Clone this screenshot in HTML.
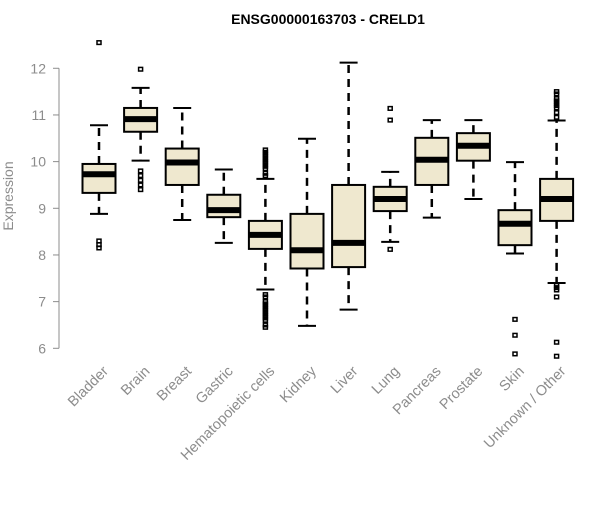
<!DOCTYPE html>
<html><head><meta charset="utf-8"><style>
body{margin:0;background:#fff}
svg text{font-family:"Liberation Sans",Arial,sans-serif}
</style></head><body>
<svg id="chart" width="600" height="500" viewBox="0 0 600 500" xmlns="http://www.w3.org/2000/svg">
<text x="328" y="24" text-anchor="middle" font-size="14" font-weight="bold" fill="#000">ENSG00000163703 - CRELD1</text>
<text transform="translate(13,196) rotate(-90)" text-anchor="middle" font-size="14" fill="#8c8c8c">Expression</text>
<g id="axis"></g>
<g id="boxes"></g>
</svg>
<script>
const categories=["Bladder","Brain","Breast","Gastric","Hematopoietic cells","Kidney","Liver","Lung","Pancreas","Prostate","Skin","Unknown / Other"];
const whiskerLow=[8.88,10.02,8.75,8.26,7.26,6.48,6.83,8.28,8.8,9.2,8.03,7.4];
const q1=[9.33,10.64,9.5,8.81,8.13,7.71,7.74,8.94,9.5,10.02,8.21,8.73];
const medians=[9.73,10.91,9.98,8.96,8.43,8.1,8.26,9.2,10.04,10.34,8.67,9.2];
const q3=[9.95,11.15,10.28,9.29,8.73,8.88,9.5,9.46,10.51,10.61,8.96,9.63];
const whiskerHigh=[10.78,11.58,11.15,9.83,9.63,10.49,12.12,9.78,10.89,10.89,9.99,10.88];
const outliers=[[12.55,8.3,8.22,8.15],[11.98,9.8,9.7,9.6,9.5,9.4],[],[],[9.7,9.75,9.85,9.9,9.95,10.0,10.05,10.1,10.15,10.2,10.25,7.15,7.1,7.0,6.95,6.9,6.85,6.8,6.75,6.7,6.65,6.6,6.5,6.45],[],[],[11.14,10.89,8.12],[],[],[6.62,6.28,5.88],[10.95,11.05,11.15,11.2,11.25,11.3,11.35,11.45,11.5,7.35,7.3,7.25,7.1,6.13,5.83]];
const yTicks=[6,7,8,9,10,11,12];
const NS="http://www.w3.org/2000/svg";
const y=v=>348.3-(v-6)*46.67;
const x=i=>99+i*41.6;
const bw=33;
function mk(tag,attrs,parent){const e=document.createElementNS(NS,tag);for(const k in attrs)e.setAttribute(k,attrs[k]);parent.appendChild(e);return e;}
const ax=document.getElementById('axis');
const axl=mk('line',{x1:59,x2:59,y1:y(12),y2:y(6),stroke:'#8c8c8c','stroke-width':1},ax);


yTicks.forEach(t=>{
 const tk=mk('line',{x1:53,x2:59,y1:y(t),y2:y(t),stroke:'#8c8c8c'},ax);
 
 
 const tl=mk('text',{x:46,y:y(t)+5,'text-anchor':'end','font-size':14,fill:'#8c8c8c'},ax);
 tl.textContent=t;
 
 
});
const bx=document.getElementById('boxes');
categories.forEach((c,i)=>{
 const cx=x(i);
 const g=mk('g',{},bx);
 
 
 mk('line',{x1:cx,x2:cx,y1:y(q3[i]),y2:y(whiskerHigh[i]),stroke:'#000','stroke-width':2.5,'stroke-dasharray':'8,6'},g);
 mk('line',{x1:cx,x2:cx,y1:y(q1[i]),y2:y(whiskerLow[i]),stroke:'#000','stroke-width':2.5,'stroke-dasharray':'8,6'},g);
 mk('line',{x1:cx-9,x2:cx+9,y1:y(whiskerHigh[i]),y2:y(whiskerHigh[i]),stroke:'#000','stroke-width':2},g);
 mk('line',{x1:cx-9,x2:cx+9,y1:y(whiskerLow[i]),y2:y(whiskerLow[i]),stroke:'#000','stroke-width':2},g);
 mk('rect',{x:cx-bw/2,y:y(q3[i]),width:bw,height:y(q1[i])-y(q3[i]),fill:'#efe8cf',stroke:'#000','stroke-width':2},g);
 mk('line',{x1:cx-bw/2,x2:cx+bw/2,y1:y(medians[i]),y2:y(medians[i]),stroke:'#000','stroke-width':6},g);
 outliers[i].forEach(o=>{
  const p=mk('rect',{x:cx-2,y:y(o)-1.8,width:4,height:3.6,fill:'none',stroke:'#000','stroke-width':1.5},g);
  
  
 });
 const t=mk('text',{transform:`translate(${cx+10},${372}) rotate(-45)`,'text-anchor':'end','font-size':14.5,fill:'#8c8c8c'},bx);
 t.textContent=c;
 
 
});
</script>
</body></html>
